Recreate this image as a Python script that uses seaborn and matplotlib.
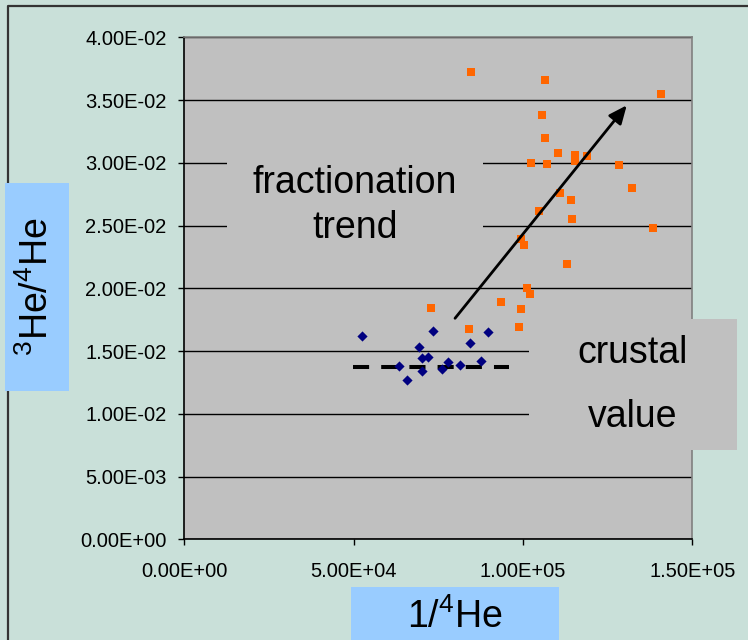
import numpy as np
import pandas as pd
import matplotlib.pyplot as plt
from matplotlib.patches import Rectangle
from matplotlib.lines import Line2D
from matplotlib.ticker import FuncFormatter
import seaborn as sns

# navy diamonds (low 3He/4He group)
set_a_x = [52390, 73440, 89600, 69400, 84370, 70190, 71880, 63400, 70280,
           65760, 76190, 77780, 81500, 87620]
set_a_y = [0.01620, 0.01662, 0.01652, 0.01535, 0.01567, 0.01442, 0.01455,
           0.01378, 0.01339, 0.01272, 0.01357, 0.01415, 0.01391, 0.01423]

# orange squares (fractionated group)
set_b_x = [84570, 106430, 140770, 105630, 106430, 110440, 102380, 107190,
           115290, 115290, 118920, 128280, 132290, 110860, 114100, 104650,
           114490, 138410, 99430, 100400, 112920, 101110, 102000, 93430,
           99510, 72760, 84070, 98750]
set_b_y = [0.03723, 0.03657, 0.03548, 0.03383, 0.03200, 0.03080, 0.03001,
           0.02990, 0.03060, 0.03012, 0.03057, 0.02980, 0.02797, 0.02762,
           0.02706, 0.02618, 0.02552, 0.02478, 0.02393, 0.02345, 0.02194,
           0.02000, 0.01952, 0.01888, 0.01833, 0.01843, 0.01678, 0.01692]

# crustal value line and fractionation arrow
crustal_x = [49820, 95880]
crustal_y = [0.01375, 0.01375]
trend_start = (79940, 0.01761)
trend_end = (130640, 0.03458)

x_ticks = [0, 50000, 100000, 150000]
y_ticks = [0, 0.005, 0.01, 0.015, 0.02, 0.025, 0.03, 0.035, 0.04]

W, H = 748, 640
bg = '#C9E0D9'
plot_gray = '#C0C0C0'
label_blue = '#99CCFF'

plt.rcParams['font.family'] = ['Liberation Sans', 'DejaVu Sans']
plt.rcParams['mathtext.fontset'] = 'custom'
plt.rcParams['mathtext.rm'] = 'Liberation Sans'

fig = plt.figure(figsize=(W / 100, H / 100), dpi=100, facecolor=bg)


def fx(px):
    return px / W


def fy(py):
    return 1 - py / H


ax = fig.add_axes([fx(184.3), fy(539.3), fx(692.3) - fx(184.3), fy(37.3) - fy(539.3)])
ax.set_facecolor(plot_gray)

df_a = pd.DataFrame({'x': set_a_x, 'y': set_a_y})
df_b = pd.DataFrame({'x': set_b_x, 'y': set_b_y})
sns.scatterplot(data=df_a, x='x', y='y', marker='D', color='#000080', s=27,
                linewidth=0, ax=ax, zorder=3)
sns.scatterplot(data=df_b, x='x', y='y', marker='s', color='#FF6600', s=37,
                linewidth=0, ax=ax, zorder=3)

ax.plot(crustal_x, crustal_y, color='black', lw=2.9, dashes=(4, 3),
        solid_capstyle='butt', dash_capstyle='butt', zorder=2)
ax.annotate('', xy=trend_end, xytext=trend_start,
            arrowprops=dict(arrowstyle='-|>,head_length=0.5,head_width=0.22',
                            color='black', lw=2, mutation_scale=22,
                            shrinkA=0, shrinkB=0), zorder=4)

ax.set_xlim(0, 150000)
ax.set_ylim(0, 0.04)
ax.set_xticks(x_ticks)
ax.set_yticks(y_ticks)
fmt = FuncFormatter(lambda v, pos: f'{v:.2E}')
ax.xaxis.set_major_formatter(fmt)
ax.yaxis.set_major_formatter(fmt)
ax.set_xlabel('')
ax.set_ylabel('')
ax.set_axisbelow(True)
ax.yaxis.grid(True, color='black', lw=1)
ax.xaxis.grid(False)
ax.tick_params(axis='both', direction='out', length=4.5, width=1, colors='black',
               labelsize=14.5)
ax.tick_params(axis='y', pad=8.4)
ax.tick_params(axis='x', pad=12)
for side in ['left', 'bottom']:
    ax.spines[side].set_color('black')
    ax.spines[side].set_linewidth(1.2)
for side in ['top', 'right']:
    ax.spines[side].set_color('#808080')
    ax.spines[side].set_linewidth(1.2)

# outer chart frame (left and top edges visible)
fig.add_artist(Line2D([fx(7.5), fx(7.5), fx(760)], [fy(660), fy(5.7), fy(5.7)],
                      transform=fig.transFigure, color='#333333', lw=1.6, zorder=1))


def box(x0, y0, x1, y1, color):
    fig.add_artist(Rectangle((fx(x0), fy(y1)), fx(x1) - fx(x0), fy(y0) - fy(y1),
                             transform=fig.transFigure, facecolor=color,
                             edgecolor='none', zorder=2))


big = 27
box(227, 152, 483, 256, plot_gray)
fig.text(fx(355), fy(205.5), 'fractionation\ntrend', ha='center', va='center',
         fontsize=big, linespacing=1.33, zorder=3)

box(529, 319, 737, 450, plot_gray)
fig.text(fx(632.5), fy(385), 'crustal\nvalue', ha='center', va='center',
         fontsize=big, linespacing=2.0, zorder=3)

box(5, 183.3, 69, 390.7, label_blue)
fig.text(fx(37), fy(287), r'$\mathregular{^3He/^4He}$', rotation=90,
         ha='center', va='center', fontsize=big, zorder=3)

box(351, 587.3, 559, 645, label_blue)
fig.text(fx(455), fy(617), r'$\mathregular{1/^4He}$', ha='center', va='center',
         fontsize=big, zorder=3)

fig.savefig('out.png', dpi=100, facecolor=bg)
